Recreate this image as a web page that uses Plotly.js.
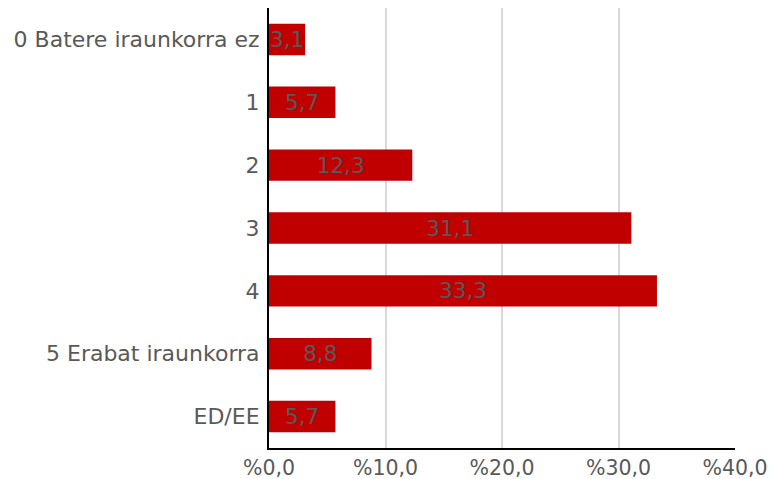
<!DOCTYPE html>
<html>
<head>
<meta charset="utf-8">
<script src="https://cdn.plot.ly/plotly-3.0.1.min.js"></script>
<style>html,body{margin:0;padding:0;background:#fff;}#chart{width:774px;height:479px;}</style>
</head>
<body>
<div id="chart"></div>
<script>
const categories = ["0 Batere iraunkorra ez", "1", "2", "3", "4", "5 Erabat iraunkorra", "ED/EE"];
const values = [3.1, 5.7, 12.3, 31.1, 33.3, 8.8, 5.7];
const tickValues = [0, 10, 20, 30, 40];
const tickLabels = ["%0,0", "%10,0", "%20,0", "%30,0", "%40,0"];

const trace = {
  type: 'bar',
  orientation: 'h',
  y: categories,
  x: values,
  marker: {color: '#C00000'},
  texttemplate: '%{x:.1f}',
  textposition: 'inside',
  insidetextanchor: 'middle',
  constraintext: 'none',
  textfont: {family: 'DejaVu Sans', size: 21.5, color: '#595959'},
  hoverinfo: 'none',
  cliponaxis: false
};

const layout = {
  width: 774, height: 479,
  margin: {l: 269, r: 39, t: 8, b: 31},
  paper_bgcolor: '#fff', plot_bgcolor: '#fff',
  separators: ',.',
  bargap: 0.5,
  showlegend: false,
  font: {family: 'DejaVu Sans', size: 21, color: '#595959'},
  xaxis: {
    range: [0, 40],
    tickmode: 'array',
    tickvals: tickValues,
    ticktext: tickLabels,
    showgrid: true, gridcolor: '#d9d9d9', gridwidth: 2,
    zeroline: false,
    showline: true, linecolor: '#000', linewidth: 2,
    ticks: '',
    tickfont: {family: 'DejaVu Sans', size: 20.5, color: '#595959'},
    fixedrange: true
  },
  yaxis: {
    type: 'category',
    autorange: 'reversed',
    showline: true, linecolor: '#000', linewidth: 2,
    showgrid: false,
    ticks: 'outside', ticklen: 3, tickcolor: 'rgba(0,0,0,0)',
    tickfont: {family: 'DejaVu Sans', size: 22, color: '#595959'},
    fixedrange: true
  }
};

Plotly.newPlot('chart', [trace], layout, {displayModeBar: false, staticPlot: true});
</script>
</body>
</html>
